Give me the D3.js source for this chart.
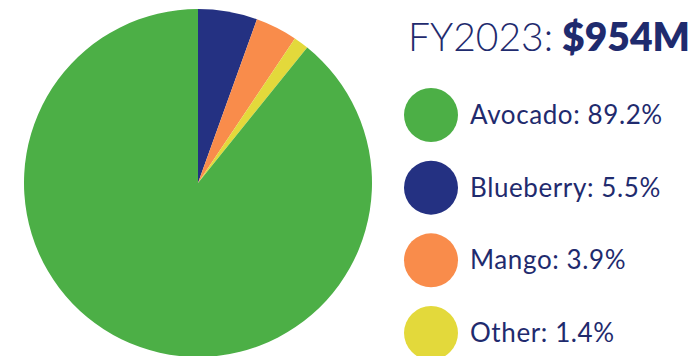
<!DOCTYPE html>
<html><head><meta charset="utf-8">
<script src="https://cdn.jsdelivr.net/npm/d3@7"></script>
<style>html,body{margin:0;padding:0;background:#fff;}svg{display:block;}</style>
</head><body>
<svg id="chart" width="699" height="356"></svg>
<script>
const categories = ["Blueberry", "Mango", "Other", "Avocado"];
const shares = [5.5, 3.9, 1.4, 89.2];
const colors = ["#243182", "#f98c4b", "#e3d93b", "#4caf46"];
const legendOrder = ["Avocado", "Blueberry", "Mango", "Other"];
const titleLabel = "FY2023:";
const titleValue = "$954M";

const svg = d3.select("#chart");
const textColor = "#1f2b6e";

const data = categories.map((c, i) => ({ name: c, value: shares[i], color: colors[i] }));
const pie = d3.pie().sort(null).value(d => d.value);
const arc = d3.arc().innerRadius(0).outerRadius(174);

svg.append("g").attr("transform", "translate(198,183)")
  .selectAll("path").data(pie(data)).join("path")
  .attr("d", arc).attr("fill", d => d.data.color);

const title = svg.append("text").attr("x", 408).attr("y", 51)
  .attr("fill", textColor).style("font-family", "Lato, sans-serif").style("font-size", "39px");
title.append("tspan").text(titleLabel).style("font-weight", 300);
title.append("tspan").text(" " + titleValue).style("font-weight", 800);

const y = d3.scalePoint().domain(legendOrder).range([115, 333]);
const byName = Object.fromEntries(data.map(d => [d.name, d]));
const lg = svg.append("g").selectAll("g").data(legendOrder).join("g")
  .attr("transform", d => `translate(0,${y(d)})`);
lg.append("circle").attr("cx", 431).attr("cy", 0).attr("r", 27).attr("fill", d => byName[d].color);
lg.append("text").attr("x", 470).attr("y", 9).attr("fill", textColor)
  .style("font-family", "Lato, sans-serif").style("font-size", "26px").style("letter-spacing", "0.6px")
  .text(d => `${d}: ${byName[d].value.toFixed(1)}%`);
</script>
</body></html>
